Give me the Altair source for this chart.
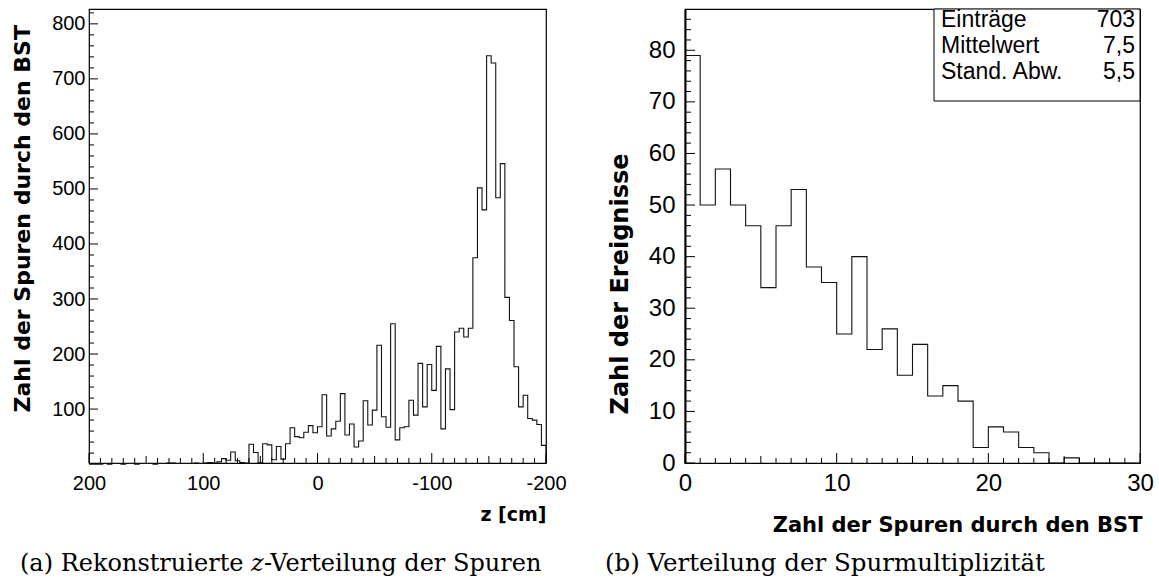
import altair as alt
import pandas as pd

# ---------------- data ----------------
# (a) reconstructed z distribution: 100 bins of 4 cm, listed from z=+200 down to z=-200
z_start = 200
z_binwidth = 4
z_counts = [0, 0, 0, 1, 0, 1, 1, 0, 1, 1,
            0, 1, 1, 1, 0, 1, 1, 2, 2, 1,
            1, 1, 1, 2, 1, 2, 3, 2, 4, 10,
            7, 22, 6, 3, 2, 36, 21, 3, 37, 35,
            8, 32, 9, 37, 66, 50, 48, 58, 70, 57,
            68, 126, 51, 64, 78, 128, 53, 73, 31, 42,
            115, 71, 98, 216, 86, 67, 255, 44, 66, 68,
            116, 89, 183, 104, 181, 134, 214, 64, 173, 99,
            240, 247, 231, 247, 375, 502, 462, 742, 729, 484,
            546, 303, 261, 177, 104, 125, 83, 80, 72, 34]

# (b) track multiplicity: bins of width 1 from 0 to 30
mult_start = 0
mult_binwidth = 1
mult_counts = [79, 50, 57, 50, 46, 34, 46, 53, 38, 35,
               25, 40, 22, 26, 17, 23, 13, 15, 12, 3,
               7, 6, 3, 2, 0, 1, 0, 0, 0, 0]

stat_names = ["Einträge", "Mittelwert", "Stand. Abw."]
stat_values = ["703", "7,5", "5,5"]

z_labels = [200, 100, 0, -100, -200]
z_count_labels = [100, 200, 300, 400, 500, 600, 700, 800]
mult_labels = [0, 10, 20, 30]
mult_count_labels = [0, 10, 20, 30, 40, 50, 60, 70, 80]

# ---------------- helpers ----------------
W1, W2, H = 457, 455, 454
SANS = "Liberation Sans"
WIDE = "DejaVu Sans"
SERIF = "DejaVu Serif"


def step_frame(start, width, counts, direction):
    rows = []
    k = 0
    for i, c in enumerate(counts):
        a = start + direction * width * i
        b = start + direction * width * (i + 1)
        rows.append({"x": a, "y": c, "o": k}); k += 1
        rows.append({"x": b, "y": c, "o": k}); k += 1
    rows.append({"x": start + direction * width * len(counts), "y": 0, "o": k})
    return pd.DataFrame(rows)


one = pd.DataFrame({"a": [0]})


def label_axis(values, title, label_size, title_size, domain=False, **kw):
    extra = {}
    if domain:
        extra = {"domain": True, "domainColor": "black", "domainWidth": 2}
    else:
        extra = {"domain": False}
    return alt.Axis(values=values, ticks=False, tickSize=0, grid=False,
                    labelFont=SANS, labelFontSize=label_size, labelColor="black",
                    labelExpr="'' + datum.value", title=title,
                    titleFont=WIDE, titleFontSize=title_size, titleFontWeight="bold",
                    titleColor="black", labelFlush=False, labelOverlap=False,
                    **extra, **kw)


def panel(frame, counts_x_scale, counts_y_scale, xaxis, yaxis, xticks, yticks, extra, width):
    hist = alt.Chart(frame).mark_line(color="#111111", strokeWidth=1.1).encode(
        x=alt.X("x:Q", scale=counts_x_scale, axis=xaxis),
        y=alt.Y("y:Q", scale=counts_y_scale, axis=yaxis),
        order="o:Q")
    layers = [hist]
    for vals, length in xticks:
        layers.append(alt.Chart(pd.DataFrame({"x": vals})).mark_rule(
            color="black", strokeWidth=1).encode(
            x=alt.X("x:Q", scale=counts_x_scale, axis=xaxis),
            y=alt.value(H), y2=alt.value(H - length)))
    for vals, length in yticks:
        layers.append(alt.Chart(pd.DataFrame({"y": vals})).mark_rule(
            color="black", strokeWidth=1).encode(
            y=alt.Y("y:Q", scale=counts_y_scale, axis=yaxis),
            x=alt.value(0), x2=alt.value(length)))
    layers.extend(extra)
    return alt.layer(*layers).properties(width=width, height=H)


def cap_text(txt, x, italic=False, size=24):
    return alt.Chart(one).mark_text(
        font=SERIF, fontSize=size, align="left", baseline="middle", color="black",
        fontStyle="italic" if italic else "normal").encode(
        text=alt.value(txt), x=alt.value(x), y=alt.value(555))


# ---------------- panel (a) ----------------
xs_a = alt.Scale(domain=[-200, 200], reverse=True, nice=False, zero=False)
ys_a = alt.Scale(domain=[2, 827], nice=False, zero=False)

xaxis_a = label_axis(z_labels, "z [cm]", 20, 19, labelPadding=10, titleAlign="right",
                     titleX=W1, titleY=51, titleBaseline="middle")
yaxis_a = label_axis(z_count_labels, "Zahl der Spuren durch den BST", 20, 22,
                     labelPadding=4, titleAngle=270, titleAlign="left",
                     titleX=-67, titleY=403, titleBaseline="middle")

minor_zx = [v for v in range(-190, 200, 10) if v % 50 != 0]
mid_zx = [-150, -50, 50, 150]
minor_zy = [v for v in range(20, 827, 20) if v % 100 != 0]

cap_a = [cap_text("(a) Rekonstruierte", -69),
         cap_text("z", 162, italic=True),
         cap_text("-Verteilung der Spuren", 175)]

panel_a = panel(step_frame(z_start, z_binwidth, z_counts, -1), xs_a, ys_a, xaxis_a, yaxis_a,
                [(z_labels, 10), (mid_zx, 7), (minor_zx, 5)],
                [(z_count_labels, 9), (minor_zy, 5)], cap_a, W1)

# ---------------- panel (b) ----------------
xs_b = alt.Scale(domain=[0, 30], nice=False, zero=False)
ys_b = alt.Scale(domain=[0, 88], nice=False, zero=False)

xaxis_b = label_axis(mult_labels, "Zahl der Spuren durch den BST", 24, 21, labelPadding=8,
                     titleAlign="right", titleX=W2 + 2, titleY=62, titleBaseline="middle")
yaxis_b = label_axis(mult_count_labels, "Zahl der Ereignisse", 24, 24, domain=True,
                     labelPadding=10, titleAngle=270, titleAlign="left", titleX=-65,
                     titleY=405, titleBaseline="middle")

minor_mx = [v for v in range(1, 30) if v % 5 != 0]
mid_mx = [5, 15, 25]
minor_my = [v for v in range(2, 88, 2) if v % 10 != 0]

box = alt.Chart(one).mark_rect(fill="white", stroke="black", strokeWidth=1).encode(
    x=alt.value(249), x2=alt.value(W2), y=alt.value(0), y2=alt.value(92))

extra_b = [box]
for i, (n, v) in enumerate(zip(stat_names, stat_values)):
    yy = 11 + 26 * i
    extra_b.append(alt.Chart(one).mark_text(
        font=SANS, fontSize=23, align="left", baseline="middle", color="black").encode(
        text=alt.value(n), x=alt.value(256), y=alt.value(yy)))
    extra_b.append(alt.Chart(one).mark_text(
        font=SANS, fontSize=23, align="right", baseline="middle", color="black").encode(
        text=alt.value(v), x=alt.value(450), y=alt.value(yy)))
extra_b.append(cap_text("(b) Verteilung der Spurmultiplizität", -80, size=24.5))

panel_b = panel(step_frame(mult_start, mult_binwidth, mult_counts, 1), xs_b, ys_b,
                xaxis_b, yaxis_b,
                [(mult_labels, 10), (mid_mx, 7), (minor_mx, 5)],
                [(mult_count_labels, 10), (minor_my, 6)], extra_b, W2)

chart = alt.hconcat(panel_a, panel_b, spacing=139, bounds="flush").properties(
    padding={"left": 10, "top": 7, "right": 0, "bottom": 0},
    background="white",
).configure_view(stroke="black", strokeWidth=1.2)

chart.save("out.html", embed_options={"renderer": "svg", "actions": False})
